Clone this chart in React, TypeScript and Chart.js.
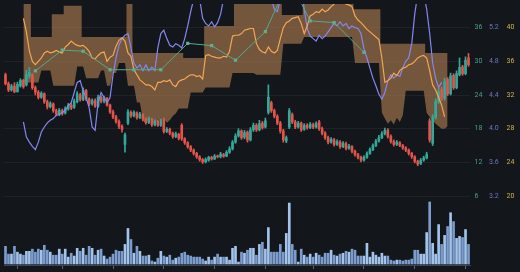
import React, { useEffect, useRef } from "react";
import { Chart, registerables } from "chart.js";
Chart.register(...registerables);

// ---- candles (price axis, teal ticks) ----
const openP = [
  27.6, 26.0, 24.9, 25.6, 24.6, 25.6, 26.6, 25.8, 27.4, 27.6,
  25.3, 24.5, 23.6, 24.2, 22.8, 21.9, 22.4, 21.2, 20.6, 21.2,
  20.8, 21.5, 22.2, 21.8, 22.8, 24.0, 23.2, 24.8, 23.3, 22.5,
  23.0, 22.0, 23.6, 22.9, 23.4, 22.2, 21.0, 20.1, 19.3, 18.4,
  15.2, 19.0, 20.9, 20.3, 20.8, 20.0, 20.5, 19.7, 19.1, 19.7,
  18.7, 19.3, 18.6, 19.6, 17.5, 17.9, 17.2, 16.6, 17.0, 18.6,
  16.2, 15.5, 14.8, 14.2, 13.6, 13.0, 12.5, 12.1, 12.4, 12.9,
  12.6, 13.1, 13.0, 13.4, 13.1, 13.8, 14.4, 15.6, 16.7, 17.6,
  16.5, 17.4, 16.0, 17.8, 18.6, 17.8, 19.0, 18.3, 20.9, 22.6,
  21.2, 20.2, 19.0, 17.6, 15.8, 18.3, 20.5, 19.2, 18.3, 19.0,
  17.9, 18.6, 18.2, 18.7, 18.3, 19.2, 18.0, 17.2, 16.4, 15.6,
  16.0, 15.2, 15.6, 14.8, 15.3, 14.5, 14.8, 14.0, 13.4, 12.9,
  12.4, 12.9, 13.6, 14.3, 15.0, 15.8, 16.4, 17.1, 17.7, 16.6,
  15.7, 15.2, 15.5, 15.0, 14.6, 14.2, 13.6, 13.0, 12.2, 11.8,
  12.4, 12.8, 19.4, 15.4, 20.0, 22.8, 25.0, 23.4, 26.8, 24.2,
  27.5, 25.3, 27.6, 29.0, 27.8, 30.6,
];
const closeP = [
  26.0, 24.9, 25.6, 24.6, 25.9, 26.6, 25.5, 27.6, 28.0, 25.3,
  24.5, 23.6, 24.3, 22.8, 21.9, 22.5, 21.2, 20.6, 21.3, 20.7,
  21.6, 22.2, 21.7, 22.9, 24.2, 23.2, 24.8, 23.3, 22.4, 23.0,
  22.0, 23.6, 22.9, 23.5, 22.2, 21.0, 20.1, 19.3, 18.4, 17.9,
  16.9, 21.0, 20.3, 20.9, 20.0, 20.6, 19.7, 19.1, 19.8, 18.7,
  19.3, 18.6, 19.4, 17.5, 17.9, 17.2, 16.6, 17.1, 16.3, 16.2,
  15.5, 14.8, 14.2, 13.6, 13.0, 12.5, 12.1, 12.5, 12.9, 12.6,
  13.1, 13.0, 13.5, 13.1, 13.8, 14.4, 15.6, 16.7, 17.6, 16.4,
  17.3, 16.0, 17.8, 18.6, 17.8, 18.9, 18.2, 19.4, 23.6, 21.2,
  20.2, 19.0, 17.6, 16.0, 16.4, 21.2, 19.2, 18.3, 19.0, 17.8,
  18.6, 18.2, 18.8, 18.3, 18.9, 18.0, 17.2, 16.4, 15.6, 16.1,
  15.2, 15.7, 14.8, 15.4, 14.5, 14.9, 14.0, 13.4, 12.9, 12.4,
  12.9, 13.6, 14.3, 15.0, 15.8, 16.4, 17.1, 17.7, 16.6, 15.7,
  15.2, 15.6, 15.0, 14.6, 14.2, 13.6, 13.0, 12.2, 11.7, 12.4,
  12.8, 13.4, 16.0, 20.0, 22.8, 24.6, 23.3, 26.4, 24.2, 27.4,
  25.3, 27.8, 28.9, 27.8, 30.2, 29.4,
];
const highP = [
  27.9, 26.3, 25.9, 26.2, 26.3, 26.9, 26.8, 28.4, 28.9, 27.8,
  25.6, 24.8, 24.6, 24.4, 23.1, 22.8, 22.6, 21.5, 21.6, 21.5,
  21.9, 22.5, 22.5, 23.3, 24.6, 24.3, 25.3, 25.0, 23.5, 23.3,
  23.3, 24.0, 23.9, 23.8, 23.6, 22.4, 21.3, 20.4, 19.6, 18.7,
  17.2, 21.4, 21.2, 21.2, 21.0, 20.9, 20.7, 20.0, 20.1, 19.9,
  19.6, 19.5, 19.7, 19.9, 18.2, 18.1, 17.4, 17.4, 17.2, 18.9,
  16.4, 15.7, 15.0, 14.4, 13.8, 13.2, 12.7, 12.8, 13.1, 13.1,
  13.4, 13.3, 13.8, 13.6, 14.1, 14.8, 15.9, 17.1, 18.0, 17.8,
  17.7, 17.6, 18.2, 19.0, 18.9, 19.5, 19.3, 19.9, 25.8, 22.9,
  21.5, 20.5, 19.3, 17.9, 16.7, 21.6, 20.8, 19.5, 19.3, 19.2,
  18.9, 18.9, 19.1, 19.0, 19.2, 19.5, 18.3, 17.5, 16.7, 16.4,
  16.3, 16.0, 15.9, 15.7, 15.6, 15.2, 15.0, 14.2, 13.6, 13.1,
  13.2, 13.9, 14.6, 15.3, 16.1, 16.8, 17.5, 18.1, 18.0, 16.9,
  16.0, 15.9, 15.7, 15.2, 14.8, 14.4, 13.8, 13.2, 12.4, 12.7,
  13.1, 13.8, 19.8, 20.5, 23.3, 25.2, 25.4, 27.0, 27.1, 27.9,
  27.8, 28.3, 30.6, 29.3, 30.8, 31.4,
];
const lowP = [
  25.8, 24.6, 24.7, 24.4, 24.5, 25.4, 25.2, 25.6, 27.0, 25.0,
  24.0, 23.3, 23.4, 22.5, 21.5, 21.7, 20.9, 20.3, 20.3, 20.4,
  20.6, 21.3, 21.4, 21.6, 22.6, 22.9, 23.0, 23.0, 22.1, 22.2,
  21.8, 21.8, 22.6, 22.6, 22.0, 20.7, 19.8, 19.0, 18.0, 17.4,
  13.8, 18.7, 20.0, 20.1, 19.7, 19.8, 19.4, 18.8, 18.9, 18.4,
  18.5, 18.4, 18.4, 17.2, 17.3, 16.9, 16.3, 16.4, 16.0, 15.9,
  15.2, 14.5, 13.9, 13.3, 12.7, 12.2, 11.8, 11.9, 12.2, 12.4,
  12.5, 12.8, 12.8, 12.9, 13.0, 13.6, 14.2, 15.4, 16.5, 16.1,
  16.2, 15.6, 15.8, 17.5, 17.5, 17.6, 17.9, 18.1, 20.6, 20.9,
  19.9, 18.7, 17.2, 15.6, 15.5, 18.0, 18.9, 18.0, 18.1, 17.5,
  17.7, 17.9, 18.0, 18.0, 18.1, 17.7, 16.9, 16.1, 15.3, 15.4,
  14.9, 15.0, 14.5, 14.6, 14.2, 14.3, 13.7, 13.1, 12.6, 12.1,
  12.2, 12.7, 13.4, 14.1, 14.8, 15.6, 16.2, 16.9, 16.3, 15.4,
  14.9, 15.0, 14.8, 14.3, 13.9, 13.3, 12.7, 11.9, 11.4, 11.6,
  12.2, 12.6, 15.6, 15.0, 19.7, 22.5, 23.0, 23.1, 23.9, 24.0,
  25.0, 25.1, 27.4, 27.5, 27.6, 29.1,
];

// ---- volume (millions) ----
const volumeM = [
  8.2, 4.6, 4.6, 8.2, 5.5, 4.6, 4.1, 5.9, 5.9, 6.9,
  5.5, 6.9, 6.4, 8.7, 6.4, 5.5, 4.1, 4.1, 6.9, 4.6,
  6.9, 3.2, 5.0, 3.7, 7.3, 5.9, 7.3, 4.1, 8.2, 7.3,
  4.1, 6.4, 6.9, 3.7, 2.3, 3.2, 4.6, 6.4, 5.9, 5.9,
  9.1, 16.5, 11.4, 5.0, 8.2, 5.9, 3.7, 3.7, 4.1, 1.4,
  0.9, 2.7, 5.9, 3.7, 3.2, 4.1, 1.8, 2.7, 3.2, 5.0,
  5.5, 4.1, 3.7, 3.2, 3.2, 3.2, 2.3, 1.4, 3.2, 1.8,
  3.2, 4.6, 3.2, 3.2, 3.2, 1.8, 7.3, 8.2, 0.9, 5.5,
  5.0, 6.4, 7.3, 7.3, 4.1, 9.1, 10.1, 6.9, 16.9, 5.5,
  5.5, 5.5, 9.1, 5.5, 14.2, 28.3, 9.1, 6.4, 0.9, 6.9,
  4.1, 3.2, 4.6, 3.2, 5.0, 4.1, 3.2, 5.0, 5.0, 6.4,
  4.1, 3.7, 4.6, 5.0, 5.9, 5.5, 6.9, 6.4, 3.7, 3.7,
  3.7, 9.6, 3.2, 5.5, 4.1, 3.2, 5.0, 3.7, 3.7, 1.8,
  1.4, 1.8, 1.8, 1.4, 1.8, 1.8, 2.3, 6.4, 6.4, 4.6,
  4.6, 14.6, 28.8, 9.6, 4.6, 18.3, 9.1, 13.3, 17.4, 23.8,
  19.7, 11.9, 12.8, 12.3, 16.0, 9.1,
];

// ---- orange line and its band (yellow ticks) ----
const orangeLine = [
  null, null, null, null, null, null, 41.1, 39.5, 37.2, 36.0,
  35.6, 36.0, 36.4, 37.0, 37.2, 37.0, 37.1, 37.3, 37.1, 37.0,
  37.7, 38.0, 38.4, 38.1, 37.9, 37.8, 37.9, 37.6, 37.2, 36.4,
  36.3, 36.7, 37.0, 37.1, 36.0, 36.5, 36.7, 37.8, 38.5, 38.8,
  38.4, 37.0, 36.6, 35.0, 34.4, 33.8, 33.5, 33.2, 33.2, 33.0,
  32.6, 33.5, 33.5, 33.7, 33.6, 33.8, 33.2, 33.0, 33.6, 33.8,
  33.9, 34.2, 34.4, 34.4, 34.2, 34.3, 33.9, 36.7, 36.8, 36.6,
  36.5, 36.4, 36.4, 36.6, 36.5, 37.2, 39.0, 39.1, 39.1, 39.3,
  39.7, 39.8, 39.9, 39.9, 38.1, 37.4, 37.1, 37.0, 37.7, 37.2,
  37.0, 37.3, 38.7, 40.0, 40.6, 40.8, 41.1, 41.2, 41.3, 40.5,
  39.3, 40.2, 41.4, 41.6, 41.9, 41.8, 42.2, 41.9, 42.1, 42.5,
  42.8, 43.2, 43.3, 43.0, 42.8, 42.7, 42.5, 41.4, 40.9, 40.6,
  40.2, 39.8, 39.5, 39.2, 38.9, 38.6, 36.4, 33.5, 33.7, 34.0,
  34.6, 34.3, 34.9, 35.2, 35.3, 35.6, 35.7, 36.0, 36.4, 36.6,
  36.7, 36.4, 34.9, 33.2, 32.6, 31.7, 30.8, 29.4, null, null,
  null, null, null, null, null, null,
];
const bandUpper = [
  null, null, null, null, null, null, 43.4, 43.4, 43.4, 38.9,
  38.9, 38.9, 38.9, 38.9, 38.9, 38.9, 41.6, 41.6, 41.6, 41.6,
  42.6, 42.6, 42.6, 42.6, 42.6, 42.6, 38.9, 38.9, 38.9, 38.9,
  38.9, 38.9, 38.9, 38.9, 38.9, 38.9, 38.9, 38.9, 38.9, 38.9,
  38.9, 43.4, 43.4, 37.0, 37.0, 37.0, 37.0, 37.0, 37.0, 37.0,
  37.0, 37.0, 37.0, 37.0, 37.0, 37.0, 37.0, 37.0, 37.0, 37.0,
  36.4, 36.4, 36.4, 36.4, 36.4, 36.4, 36.4, 40.2, 40.2, 40.2,
  40.2, 40.2, 40.2, 40.2, 40.2, 40.2, 40.2, 43.4, 43.4, 43.4,
  43.4, 43.4, 43.4, 43.4, 43.4, 43.4, 43.4, 43.4, 43.4, 43.4,
  43.4, 43.4, 43.4, 41.5, 41.5, 41.5, 41.5, 41.5, 41.5, 41.5,
  43.4, 43.4, 43.4, 43.4, 43.4, 43.4, 43.4, 43.4, 43.4, 43.4,
  43.4, 43.4, 43.4, 43.4, 43.4, 43.4, 43.4, 42.2, 42.2, 42.2,
  42.2, 42.2, 42.2, 42.2, 42.2, 42.2, 38.1, 38.1, 38.1, 38.1,
  38.1, 38.1, 38.1, 38.1, 38.1, 38.1, 38.1, 38.1, 38.1, 38.1,
  38.1, 37.0, 37.0, 37.0, 37.0, 37.0, 37.0, 37.0, 37.0, null,
  null, null, null, null, null, null,
];
const bandLower = [
  null, null, null, null, null, null, 33.5, 33.5, 33.5, 33.5,
  33.5, 33.5, 34.9, 34.9, 34.9, 34.9, 33.1, 33.1, 33.1, 33.1,
  33.1, 33.1, 33.1, 33.1, 35.4, 35.4, 35.4, 34.0, 34.0, 34.0,
  34.0, 34.0, 34.9, 34.9, 33.1, 33.1, 34.6, 34.6, 35.8, 35.8,
  35.8, 33.1, 33.1, 33.1, 31.1, 31.1, 29.0, 28.6, 29.3, 28.9,
  28.5, 29.1, 28.8, 29.2, 28.7, 29.0, 29.5, 29.8, 30.4, 30.4,
  30.4, 30.4, 32.3, 32.3, 32.3, 32.3, 32.3, 32.9, 32.9, 32.9,
  32.9, 32.9, 32.9, 32.9, 32.9, 32.9, 34.6, 34.6, 34.6, 34.6,
  34.6, 34.6, 34.6, 34.6, 34.4, 34.4, 34.4, 34.4, 34.4, 34.4,
  34.4, 34.4, 34.4, 38.1, 38.1, 38.1, 38.1, 38.1, 38.1, 38.1,
  38.9, 38.9, 38.9, 38.9, 38.9, 38.9, 38.9, 38.9, 38.9, 38.9,
  38.9, 38.9, 38.9, 38.9, 38.9, 38.9, 38.9, 35.8, 35.8, 35.8,
  35.8, 35.8, 35.8, 35.8, 35.8, 35.8, 29.9, 29.2, 28.6, 29.0,
  28.5, 29.3, 28.8, 29.6, 32.5, 32.5, 32.5, 32.5, 32.5, 32.5,
  32.5, 29.9, 29.4, 29.0, 28.6, 28.3, 28.0, 28.0, 28.3, null,
  null, null, null, null, null, null,
];

// ---- purple line (purple ticks) ----
const purpleLine = [
  null, null, null, null, null, null, 4.08, 3.90, 3.84, 3.79,
  3.75, 3.84, 3.96, 4.02, 4.07, 4.10, 4.12, 4.16, 4.17, 4.19,
  4.22, 4.27, 4.31, 4.43, 4.55, 4.57, 4.45, 4.37, 4.25, 4.02,
  3.98, 4.31, 4.43, 4.37, 4.31, 4.37, 4.64, 4.84, 4.99, 5.07,
  5.11, 5.13, 4.96, 4.78, 4.72, 4.76, 4.69, 4.76, 4.69, 4.73,
  4.69, 4.96, 5.13, 5.17, 5.07, 4.99, 4.97, 5.01, 4.99, 4.96,
  5.07, 5.22, 5.39, 5.54, 5.60, 5.54, 5.31, 5.25, 5.22, 5.27,
  5.21, 5.26, 5.36, 5.54, 5.72, 5.72, 5.72, 5.72, 5.72, 5.72,
  5.72, 5.72, 5.72, 5.72, 5.72, 5.72, 5.72, 5.72, 5.72, 5.54,
  5.42, 5.39, 5.54, 5.72, 5.72, 5.72, 5.72, 5.72, 5.72, 5.72,
  5.42, 5.19, 5.10, 5.07, 5.04, 5.11, 5.07, 5.10, 5.15, 5.20,
  5.25, 5.22, 5.27, 5.22, 5.25, 5.19, 5.22, 5.20, 5.19, 5.13,
  4.95, 4.84, 4.72, 4.60, 4.51, 4.41, 4.35, 4.43, 4.57, 4.64,
  4.60, 4.64, 4.62, 4.72, 4.80, 4.84, 5.01, 5.36, 5.60, 5.72,
  5.60, 5.42, 5.13, 4.78, 4.60, 4.49, 4.55, null, null, null,
  null, null, null, null, null, null,
];

// ---- green line: [candle index, value on price axis] ----
const greenPoints: [number, number][] = [
  [10, 28.3], [19, 32.0], [26, 31.8], [35, 28.5], [43, 28.5], [52, 28.5],
  [61, 33.2], [69, 32.8], [77, 30.2], [87, 35.3], [95, 44.6], [102, 37.2],
  [110, 36.9], [120, 31.6],
];

// ---- axis ticks ----
const priceTicks = [36, 30, 24, 18, 12, 6];
const purpleTicks = [5.2, 4.8, 4.4, 4, 3.6, 3.2];
const yellowTicks = [40, 36, 32, 28, 24, 20];
const volumeTicks = [0, 16];
const xTickIndex = [4, 19, 36, 53, 70, 87, 103, 120, 137, 154];
const dayLabels = closeP.map((_, i) => String(i + 1));

const BG = "#13171c";
const UP = "#33a99a";
const DOWN = "#e4544b";
const BAND = "rgba(176,126,80,0.62)";
const FONT = { size: 7, family: "Roboto" };

export default function App() {
  const ref = useRef<HTMLCanvasElement>(null);
  useEffect(() => {
    const canvas = ref.current!;
    const up = closeP.map((c, i) => c >= openP[i]);
    const candleColors = up.map((u) => (u ? UP : DOWN));
    const volColors = up.map((u) => (u ? "#a2c3ea" : "#7b9ccd"));
    const greenData: (number | null)[] = closeP.map(() => null);
    greenPoints.forEach(([i, v]) => (greenData[i] = v));

    const fixTicks = (vals: number[]) => (s: any) => {
      s.ticks = vals.map((v) => ({ value: v }));
    };
    const fixWidth = (w: number) => (s: any) => {
      s.width = w;
      s.paddingTop = 0;
      s.paddingBottom = 0;
    };

    const chart = new Chart(canvas, {
      type: "bar",
      data: {
        labels: dayLabels,
        datasets: [
          {
            type: "line", data: bandUpper as any, yAxisID: "yY", borderWidth: 0,
            borderColor: "rgba(0,0,0,0)", pointRadius: 0, stepped: "middle", fill: false, order: 20,
          },
          {
            type: "line", data: bandLower as any, yAxisID: "yY", borderWidth: 0,
            borderColor: "rgba(0,0,0,0)", pointRadius: 0, fill: "-1", backgroundColor: BAND, order: 19,
          },
          {
            type: "bar", data: volumeM, yAxisID: "yV", backgroundColor: volColors,
            barThickness: 2, grouped: false, order: 15,
          } as any,
          {
            type: "bar", data: lowP.map((l, i) => [l, highP[i]]) as any, yAxisID: "yT",
            backgroundColor: candleColors, barThickness: 1, grouped: false, order: 12,
          } as any,
          {
            type: "bar", data: openP.map((o, i) => [o, closeP[i]]) as any, yAxisID: "yT",
            backgroundColor: candleColors, barThickness: 2, grouped: false, minBarLength: 1, order: 11,
          } as any,
          {
            type: "line", data: purpleLine as any, yAxisID: "yP", borderColor: "#8487ee",
            borderWidth: 1.2, pointRadius: 0, tension: 0, order: 5,
          },
          {
            type: "line", data: orangeLine as any, yAxisID: "yY", borderColor: "#f4a653",
            borderWidth: 1.2, pointRadius: 0, tension: 0, order: 4,
          },
          {
            type: "line", data: greenData as any, yAxisID: "yT", borderColor: "#57a98b",
            borderWidth: 1, pointStyle: "rect", pointRadius: 2.3, pointBackgroundColor: "#5fae90",
            pointBorderWidth: 0, spanGaps: true, tension: 0, order: 1,
          },
        ],
      },
      options: {
        responsive: false,
        animation: false,
        devicePixelRatio: 1,
        layout: { padding: 0 },
        plugins: { legend: { display: false }, tooltip: { enabled: false } },
        scales: {
          x: {
            type: "category",
            offset: true,
            grid: { display: true, drawOnChartArea: false, drawTicks: true, tickLength: 4, color: "#5a6270", offset: false },
            border: { display: true, color: "#3c4450" },
            ticks: { display: false },
            afterBuildTicks: fixTicks(xTickIndex),
            afterFit: (s: any) => { s.height = 7; s.paddingLeft = 0; s.paddingRight = 0; },
          },
          yV: {
            position: "right", weight: 0, min: -0.457, max: 120.69,
            grid: { display: false, drawTicks: false }, border: { display: false },
            ticks: { color: "#9aa4b4", font: FONT, padding: 0, crossAlign: "far",
              callback: (v: any) => (v === 0 ? "0" : v + "M") },
            afterBuildTicks: fixTicks(volumeTicks),
            afterFit: fixWidth(0),
          },
          yT: {
            position: "right", weight: 1, min: -6.28, max: 40.21,
            grid: { display: true, drawOnChartArea: true, drawTicks: false, color: "rgba(255,255,255,0.05)" },
            border: { display: false },
            ticks: { color: "#4b9c95", font: FONT, padding: 4.5, crossAlign: "near" },
            afterBuildTicks: fixTicks(priceTicks),
            afterFit: fixWidth(19),
          },
          yP: {
            position: "right", weight: 2, min: 2.381, max: 5.481,
            grid: { display: false, drawTicks: false }, border: { display: false },
            ticks: { color: "#7073c6", font: FONT, padding: 0, crossAlign: "near" },
            afterBuildTicks: fixTicks(purpleTicks),
            afterFit: fixWidth(17.5),
          },
          yY: {
            position: "right", weight: 3, min: 11.81, max: 42.81,
            grid: { display: false, drawTicks: false }, border: { display: false },
            ticks: { color: "#d1b24c", font: FONT, padding: 0, crossAlign: "near" },
            afterBuildTicks: fixTicks(yellowTicks),
            afterFit: fixWidth(13.5),
          },
        },
      } as any,
    });
    return () => chart.destroy();
  }, []);

  return (
    <div style={{ position: "fixed", left: 0, top: 0, width: 520, height: 272, background: BG }}>
      <canvas ref={ref} width={520} height={272} style={{ display: "block" }} />
    </div>
  );
}
